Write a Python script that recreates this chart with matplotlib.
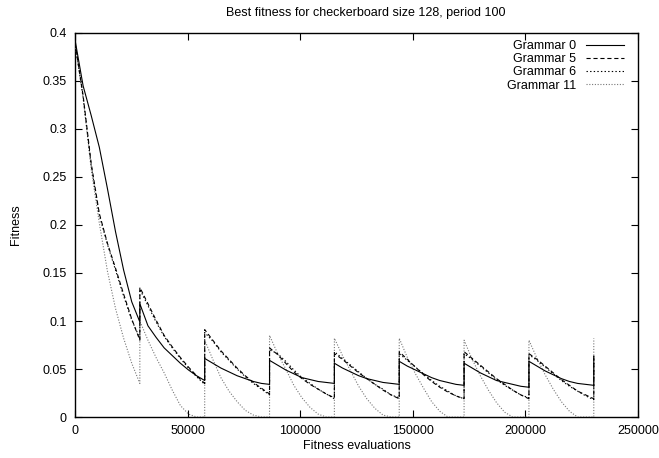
import matplotlib
matplotlib.use('Agg')
import matplotlib.pyplot as plt
from matplotlib.lines import Line2D

plt.rcParams['font.family'] = ['Liberation Sans', 'DejaVu Sans']
plt.rcParams['font.size'] = 9
plt.rcParams['lines.scale_dashes'] = False

# evaluations per period, and where each period was sampled
period = 28800
offsets = [0, 3600, 7200, 10800, 14400, 18000, 21600, 25200, 28800]

# best fitness per period (one list per period), last value = jump after final period
g0 = [
    [0.393, 0.345, 0.314, 0.281, 0.238, 0.193, 0.153, 0.120, 0.099],
    [0.118, 0.095, 0.083, 0.072, 0.064, 0.056, 0.049, 0.043, 0.038],
    [0.061, 0.056, 0.051, 0.047, 0.043, 0.040, 0.037, 0.035, 0.034],
    [0.059, 0.054, 0.049, 0.045, 0.041, 0.039, 0.037, 0.036, 0.035],
    [0.056, 0.051, 0.047, 0.043, 0.040, 0.038, 0.036, 0.035, 0.034],
    [0.058, 0.053, 0.049, 0.045, 0.041, 0.038, 0.036, 0.034, 0.033],
    [0.056, 0.051, 0.046, 0.042, 0.038, 0.036, 0.034, 0.032, 0.031],
    [0.058, 0.053, 0.048, 0.044, 0.040, 0.037, 0.035, 0.034, 0.033],
]
g0_last = 0.061

g5 = [
    [0.390, 0.335, 0.264, 0.212, 0.181, 0.155, 0.128, 0.102, 0.080],
    [0.135, 0.118, 0.101, 0.085, 0.073, 0.062, 0.052, 0.043, 0.035],
    [0.091, 0.080, 0.069, 0.060, 0.051, 0.043, 0.036, 0.030, 0.024],
    [0.072, 0.065, 0.056, 0.047, 0.040, 0.034, 0.029, 0.024, 0.020],
    [0.066, 0.060, 0.053, 0.046, 0.040, 0.034, 0.028, 0.023, 0.019],
    [0.068, 0.060, 0.052, 0.044, 0.037, 0.031, 0.026, 0.022, 0.019],
    [0.068, 0.061, 0.054, 0.047, 0.040, 0.034, 0.028, 0.023, 0.019],
    [0.066, 0.060, 0.053, 0.046, 0.039, 0.033, 0.027, 0.023, 0.019],
]
g5_last = 0.065

g6 = [
    [0.390, 0.333, 0.262, 0.210, 0.180, 0.153, 0.126, 0.101, 0.082],
    [0.133, 0.116, 0.099, 0.084, 0.072, 0.061, 0.051, 0.042, 0.034],
    [0.088, 0.079, 0.068, 0.059, 0.050, 0.042, 0.035, 0.029, 0.023],
    [0.070, 0.066, 0.058, 0.049, 0.041, 0.035, 0.029, 0.024, 0.019],
    [0.068, 0.061, 0.054, 0.047, 0.040, 0.034, 0.029, 0.023, 0.020],
    [0.066, 0.059, 0.052, 0.045, 0.038, 0.032, 0.027, 0.022, 0.019],
    [0.066, 0.060, 0.053, 0.046, 0.039, 0.033, 0.028, 0.023, 0.020],
    [0.065, 0.059, 0.052, 0.045, 0.038, 0.032, 0.027, 0.022, 0.018],
]
g6_last = 0.066

g11 = [
    [0.390, 0.333, 0.258, 0.202, 0.152, 0.113, 0.082, 0.056, 0.035],
    [0.100, 0.080, 0.062, 0.046, 0.028, 0.012, 0.003, 0.0, 0.0],
    [0.080, 0.060, 0.041, 0.027, 0.016, 0.007, 0.002, 0.0, 0.0],
    [0.085, 0.066, 0.050, 0.033, 0.020, 0.010, 0.003, 0.0, 0.0],
    [0.082, 0.064, 0.048, 0.032, 0.019, 0.009, 0.002, 0.0, 0.0],
    [0.082, 0.062, 0.045, 0.030, 0.016, 0.006, 0.0, 0.0, 0.0],
    [0.080, 0.060, 0.043, 0.028, 0.015, 0.005, 0.0, 0.0, 0.0],
    [0.080, 0.061, 0.044, 0.029, 0.016, 0.006, 0.0, 0.0, 0.0],
]
g11_last = 0.082


def flatten(segments, last):
    xs, ys = [], []
    for i, seg in enumerate(segments):
        xs += [i * period + o for o in offsets]
        ys += seg
    xs.append(len(segments) * period)
    ys.append(last)
    return xs, ys


series = [
    ('Grammar 0', g0, g0_last, dict(color='black', linestyle='-')),
    ('Grammar 5', g5, g5_last, dict(color='black', linestyle=(0, (3, 2)))),
    ('Grammar 6', g6, g6_last, dict(color='black', linestyle=(0, (1, 1.6)))),
    ('Grammar 11', g11, g11_last, dict(color='#777777', linestyle=(0, (0.8, 1.2)))),
]

fig = plt.figure(figsize=(6.59, 4.58), dpi=100)
ax = fig.add_axes([0.1138, 0.0895, 0.8542, 0.8385])

handles = []
for z, (name, segs, last, style) in enumerate(series):
    xs, ys = flatten(segs, last)
    ax.plot(xs, ys, linewidth=0.8, zorder=10 - z, **style)
    handles.append(Line2D([], [], linewidth=0.8, label=name, **style))

ax.set_xlim(0, 250000)
ax.set_ylim(0, 0.4)
ax.set_xticks([0, 50000, 100000, 150000, 200000, 250000])
ax.set_xticklabels(['0', '50000', '100000', '150000', '200000', '250000'])
ax.set_yticks([0, 0.05, 0.1, 0.15, 0.2, 0.25, 0.3, 0.35, 0.4])
ax.set_yticklabels(['0', '0.05', '0.1', '0.15', '0.2', '0.25', '0.3', '0.35', '0.4'])
ax.tick_params(direction='in', length=5, width=0.8, top=True, right=True, pad=6)
for s in ax.spines.values():
    s.set_linewidth(1.0)

ax.set_xlabel('Fitness evaluations', labelpad=2)
ax.set_ylabel('Fitness', labelpad=15)
fig.text(0.555, 0.972, 'Best fitness for checkerboard size 128, period 100',
         ha='center', va='center', fontsize=9)

leg = ax.legend(handles=handles, loc='upper right', frameon=False,
                bbox_to_anchor=(0.975, 0.982), borderaxespad=0, borderpad=0,
                markerfirst=False, handlelength=3.0, handletextpad=0.8,
                labelspacing=0.1, fontsize=9)
for t in leg.get_texts():
    t.set_ha('right')

fig.savefig('out.png', dpi=100)
